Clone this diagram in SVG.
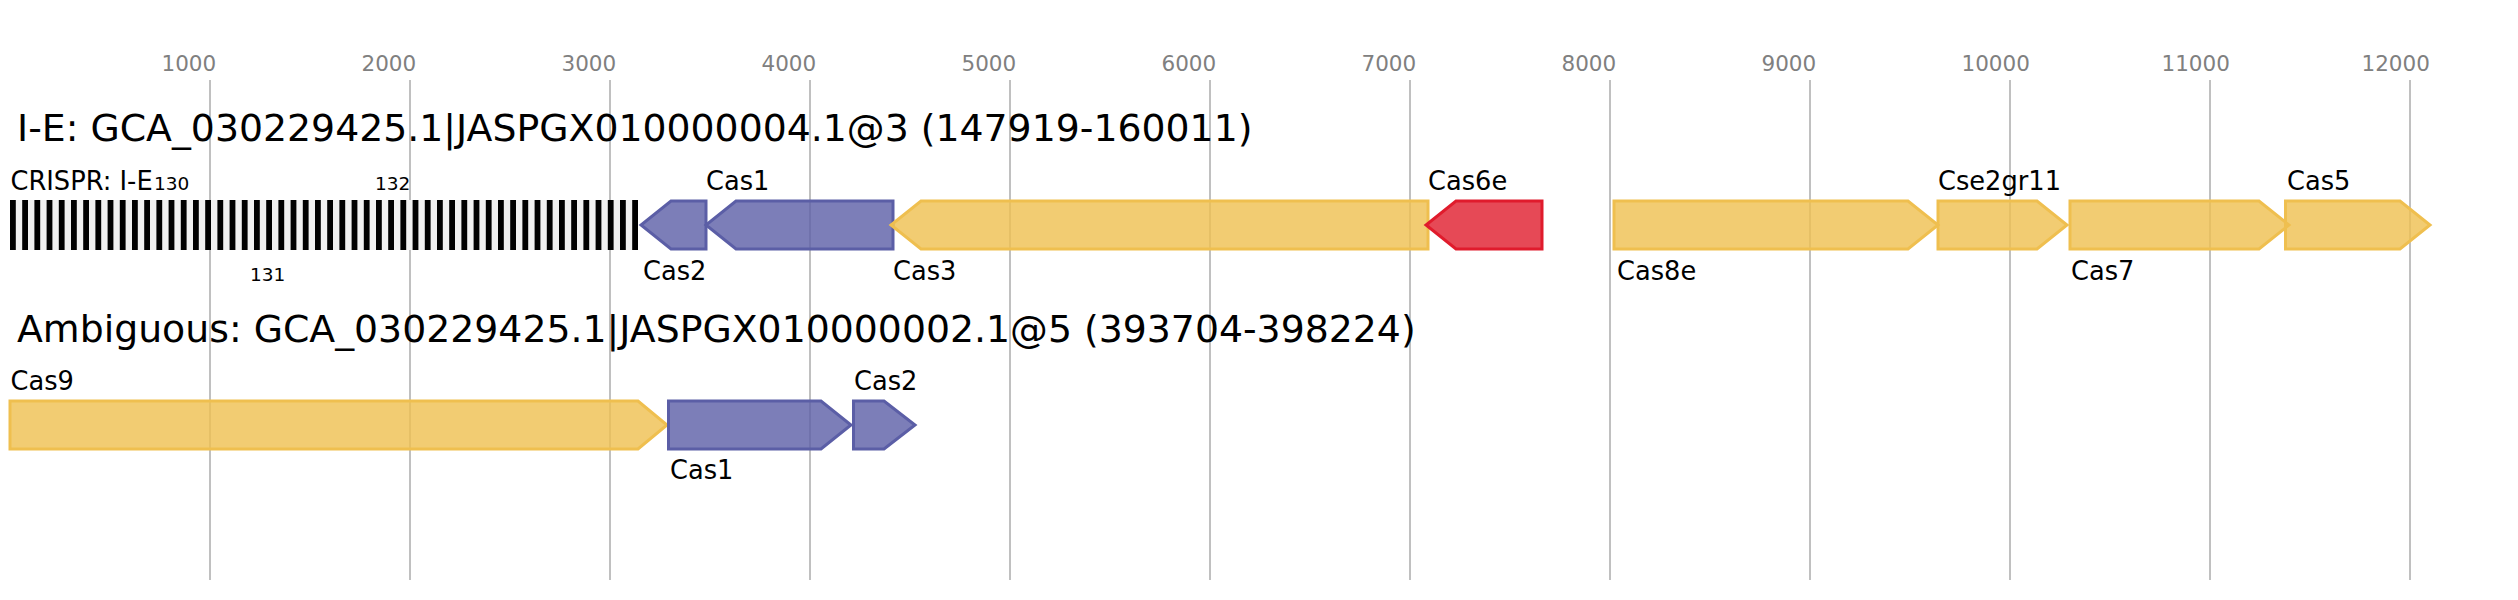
<svg xmlns="http://www.w3.org/2000/svg" width="2518" height="600" viewBox="0 0 2518 600">
<style>
text{font-family:"DejaVu Sans","Liberation Sans",sans-serif;}
.grid{stroke:#c0c0c0;stroke-width:2;}
.ax{font-size:21.5px;fill:#808080;}
.title{font-size:37.8px;fill:#000;}
.lbl{font-size:25.7px;fill:#000;}
.num{font-size:18.5px;fill:#000;}
.blue{fill:#5b5ea6;fill-opacity:0.8;stroke:#5b5ea6;stroke-width:3;}
.yel{fill:#efbf4f;fill-opacity:0.8;stroke:#efbf4f;stroke-width:3;}
.red{fill:#e01b2c;fill-opacity:0.8;stroke:#e01b2c;stroke-width:3;}
.rep{fill:#000;}
</style>
<rect width="2518" height="600" fill="#fff"/>
<g id="axis">
<line class="grid" x1="210" y1="80" x2="210" y2="580"/>
<line class="grid" x1="410" y1="80" x2="410" y2="580"/>
<line class="grid" x1="610" y1="80" x2="610" y2="580"/>
<line class="grid" x1="810" y1="80" x2="810" y2="580"/>
<line class="grid" x1="1010" y1="80" x2="1010" y2="580"/>
<line class="grid" x1="1210" y1="80" x2="1210" y2="580"/>
<line class="grid" x1="1410" y1="80" x2="1410" y2="580"/>
<line class="grid" x1="1610" y1="80" x2="1610" y2="580"/>
<line class="grid" x1="1810" y1="80" x2="1810" y2="580"/>
<line class="grid" x1="2010" y1="80" x2="2010" y2="580"/>
<line class="grid" x1="2210" y1="80" x2="2210" y2="580"/>
<line class="grid" x1="2410" y1="80" x2="2410" y2="580"/>
<text class="ax" x="161.5" y="70.5">1000</text>
<text class="ax" x="361.5" y="70.5">2000</text>
<text class="ax" x="561.5" y="70.5">3000</text>
<text class="ax" x="761.5" y="70.5">4000</text>
<text class="ax" x="961.5" y="70.5">5000</text>
<text class="ax" x="1161.5" y="70.5">6000</text>
<text class="ax" x="1361.5" y="70.5">7000</text>
<text class="ax" x="1561.5" y="70.5">8000</text>
<text class="ax" x="1761.5" y="70.5">9000</text>
<text class="ax" x="1961.5" y="70.5">10000</text>
<text class="ax" x="2161.5" y="70.5">11000</text>
<text class="ax" x="2361.5" y="70.5">12000</text>
</g>
<text id="title1" class="title" x="17" y="140.5">I-E: GCA_030229425.1|JASPGX010000004.1@3 (147919-160011)</text>
<text id="title2" class="title" x="17" y="341.5">Ambiguous: GCA_030229425.1|JASPGX010000002.1@5 (393704-398224)</text>
<g id="crispr">
<rect x="10" y="200" width="628" height="50" fill="#f0f0f0"/>
<rect class="rep" x="10" y="200" width="5.8" height="50"/><rect class="rep" x="22.2" y="200" width="5.8" height="50"/><rect class="rep" x="34.4" y="200" width="5.8" height="50"/><rect class="rep" x="46.6" y="200" width="5.8" height="50"/><rect class="rep" x="58.8" y="200" width="5.8" height="50"/><rect class="rep" x="71" y="200" width="5.8" height="50"/><rect class="rep" x="83.2" y="200" width="5.8" height="50"/><rect class="rep" x="95.4" y="200" width="5.8" height="50"/><rect class="rep" x="107.6" y="200" width="5.8" height="50"/><rect class="rep" x="119.8" y="200" width="5.8" height="50"/><rect class="rep" x="132" y="200" width="5.8" height="50"/><rect class="rep" x="144.2" y="200" width="5.8" height="50"/><rect class="rep" x="156.4" y="200" width="5.8" height="50"/><rect class="rep" x="168.6" y="200" width="5.8" height="50"/><rect class="rep" x="180.8" y="200" width="5.8" height="50"/><rect class="rep" x="193" y="200" width="5.8" height="50"/><rect class="rep" x="205.2" y="200" width="5.8" height="50"/><rect class="rep" x="217.4" y="200" width="5.8" height="50"/><rect class="rep" x="229.6" y="200" width="5.8" height="50"/><rect class="rep" x="241.8" y="200" width="5.8" height="50"/><rect class="rep" x="254" y="200" width="5.8" height="50"/><rect class="rep" x="266.2" y="200" width="5.8" height="50"/><rect class="rep" x="278.4" y="200" width="5.8" height="50"/><rect class="rep" x="290.6" y="200" width="5.8" height="50"/><rect class="rep" x="302.8" y="200" width="5.8" height="50"/><rect class="rep" x="315" y="200" width="5.8" height="50"/><rect class="rep" x="327.2" y="200" width="5.8" height="50"/><rect class="rep" x="339.4" y="200" width="5.8" height="50"/><rect class="rep" x="351.6" y="200" width="5.8" height="50"/><rect class="rep" x="363.8" y="200" width="5.8" height="50"/><rect class="rep" x="376" y="200" width="5.8" height="50"/><rect class="rep" x="388.2" y="200" width="5.8" height="50"/><rect class="rep" x="400.4" y="200" width="5.8" height="50"/><rect class="rep" x="412.6" y="200" width="5.8" height="50"/><rect class="rep" x="424.8" y="200" width="5.8" height="50"/><rect class="rep" x="437" y="200" width="5.8" height="50"/><rect class="rep" x="449.2" y="200" width="5.8" height="50"/><rect class="rep" x="461.4" y="200" width="5.8" height="50"/><rect class="rep" x="473.6" y="200" width="5.8" height="50"/><rect class="rep" x="485.8" y="200" width="5.8" height="50"/><rect class="rep" x="498" y="200" width="5.8" height="50"/><rect class="rep" x="510.2" y="200" width="5.8" height="50"/><rect class="rep" x="522.4" y="200" width="5.8" height="50"/><rect class="rep" x="534.6" y="200" width="5.8" height="50"/><rect class="rep" x="546.8" y="200" width="5.8" height="50"/><rect class="rep" x="559" y="200" width="5.8" height="50"/><rect class="rep" x="571.2" y="200" width="5.8" height="50"/><rect class="rep" x="583.4" y="200" width="5.8" height="50"/><rect class="rep" x="595.6" y="200" width="5.8" height="50"/><rect class="rep" x="607.8" y="200" width="5.8" height="50"/><rect class="rep" x="620" y="200" width="5.8" height="50"/><rect class="rep" x="632.2" y="200" width="5.8" height="50"/>
<text class="lbl" x="10.5" y="190">CRISPR: I-E</text>
<text class="num" x="154" y="190">130</text>
<text class="num" x="250" y="281">131</text>
<text class="num" x="375" y="190">132</text>
</g>
<g id="r1-cas2"><polygon class="blue" points="706,201 671,201 641,225 671,249 706,249"/><text class="lbl" x="643" y="280">Cas2</text></g>
<g id="r1-cas1"><polygon class="blue" points="893,201 736,201 706,225 736,249 893,249"/><text class="lbl" x="706" y="190">Cas1</text></g>
<g id="r1-cas3"><polygon class="yel" points="1428,201 921,201 891,225 921,249 1428,249"/><text class="lbl" x="893" y="280">Cas3</text></g>
<g id="r1-cas6e"><polygon class="red" points="1542,201 1456,201 1426,225 1456,249 1542,249"/><text class="lbl" x="1428" y="190">Cas6e</text></g>
<g id="r1-cas8e"><polygon class="yel" points="1614,201 1908,201 1938,225 1908,249 1614,249"/><text class="lbl" x="1617" y="280">Cas8e</text></g>
<g id="r1-cse2gr11"><polygon class="yel" points="1938,201 2037,201 2067,225 2037,249 1938,249"/><text class="lbl" x="1938" y="190">Cse2gr11</text></g>
<g id="r1-cas7"><polygon class="yel" points="2070,201 2259,201 2289,225 2259,249 2070,249"/><text class="lbl" x="2071" y="280">Cas7</text></g>
<g id="r1-cas5"><polygon class="yel" points="2285.5,201 2400,201 2430,225 2400,249 2285.5,249"/><text class="lbl" x="2287" y="190">Cas5</text></g>
<g id="r2-cas9"><polygon class="yel" points="10,401 638,401 667,425 638,449 10,449"/><text class="lbl" x="10.5" y="390">Cas9</text></g>
<g id="r2-cas1"><polygon class="blue" points="668.5,401 821,401 851,425 821,449 668.5,449"/><text class="lbl" x="670" y="479">Cas1</text></g>
<g id="r2-cas2"><polygon class="blue" points="853.5,401 884,401 915,425 884,449 853.5,449"/><text class="lbl" x="854" y="390">Cas2</text></g>
<g id="connectors"></g>
</svg>
